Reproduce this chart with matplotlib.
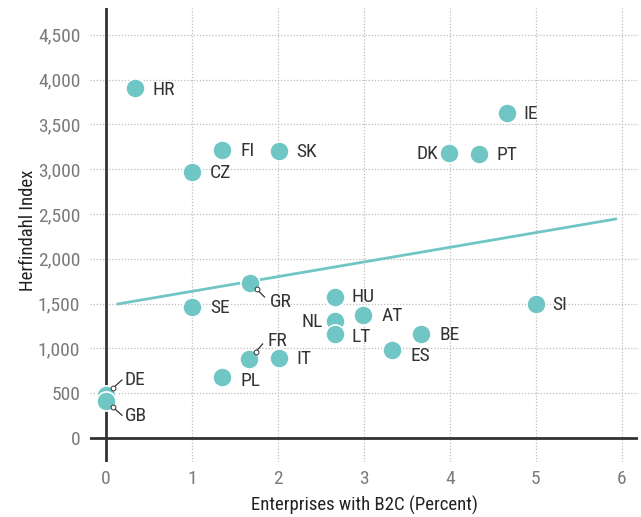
import matplotlib
matplotlib.use('Agg')
import matplotlib.pyplot as plt
import matplotlib.transforms as mtrans

plt.rcParams['font.family'] = ['Roboto Condensed', 'Liberation Sans Narrow', 'Roboto', 'DejaVu Sans']

countries = ['HR', 'FI', 'SK', 'CZ', 'IE', 'DK', 'PT', 'GR', 'SE', 'HU', 'NL', 'LT',
             'AT', 'BE', 'ES', 'SI', 'FR', 'IT', 'PL', 'DE', 'GB']
b2c = [0.34, 1.35, 2.01, 1.0, 4.66, 3.99, 4.34, 1.67, 1.0, 2.66, 2.66, 2.66,
       2.99, 3.66, 3.33, 5.0, 1.66, 2.01, 1.35, 0.0, 0.0]
hhi = [3906, 3214, 3200, 2970, 3627, 3180, 3170, 1730, 1462, 1574, 1306, 1160,
       1373, 1160, 982, 1496, 882, 893, 680, 480, 410]

trend_x = [0.14, 5.93]
trend_y = [1496, 2444]

xticks = [0, 1, 2, 3, 4, 5, 6]
yticks = [0, 500, 1000, 1500, 2000, 2500, 3000, 3500, 4000, 4500]

teal = '#70c6c4'

# label offsets in pixels (dx, dy with dy pointing down), alignment
offsets = {
    'HR': (17, 2, 'left'), 'FI': (18, 1, 'left'), 'SK': (18, 1, 'left'),
    'CZ': (18, 1, 'left'), 'IE': (17, 1, 'left'), 'DK': (-11, 1, 'right'),
    'PT': (18, 1, 'left'), 'GR': (20, 19, 'left'), 'SE': (18, 1, 'left'),
    'HU': (17, 0, 'left'), 'NL': (-12, 1, 'right'), 'LT': (17, 3, 'left'),
    'AT': (19, 1, 'left'), 'BE': (19, 1, 'left'), 'ES': (18, 6, 'left'),
    'SI': (17, 1, 'left'), 'FR': (19, -18, 'left'), 'IT': (18, 1, 'left'),
    'PL': (18, 4, 'left'), 'DE': (19, -15, 'left'), 'GB': (19, 15, 'left'),
}
# leader lines: (start dx, dy) -> (end dx, dy) in pixels
leaders = {
    'GR': ((7, 6), (15, 14)),
    'FR': ((7, -7), (14, -15)),
    'DE': ((7, -7), (16, -15)),
    'GB': ((7, 6), (16, 14)),
}

fig = plt.figure(figsize=(6.41, 5.17), dpi=100)
ax = fig.add_axes([90 / 641, 1 - 462 / 517, 548 / 641, 454 / 517])
ax.set_xlim(-0.186, 6.19)
ax.set_ylim(-268, 4799)

for s in ax.spines.values():
    s.set_visible(False)
ax.grid(True, linestyle=(0, (1, 1.5)), color='#bdbdbd', linewidth=0.9)
ax.set_axisbelow(True)
ax.axhline(0, color='#333333', linewidth=2, zorder=1)
ax.axvline(0, color='#333333', linewidth=2, zorder=1)

ax.set_xticks(xticks)
ax.set_yticks(yticks)
ax.set_yticklabels([f'{v:,}' for v in yticks])
ax.tick_params(length=0, labelsize=14, labelcolor='#7a7a7a')
ax.tick_params(axis='x', pad=6)
ax.tick_params(axis='y', pad=7)

ax.plot(trend_x, trend_y, color=teal, linewidth=2, zorder=2)
ax.scatter(b2c, hhi, s=190, color=teal, edgecolor='white', linewidth=1.2, zorder=3)

px = 0.72
for name, x, y in zip(countries, b2c, hhi):
    dx, dy, ha = offsets[name]
    tr = mtrans.offset_copy(ax.transData, fig=fig, x=dx * px, y=-dy * px, units='points')
    ax.text(x, y, name, transform=tr, ha=ha, va='center', fontsize=14, color='#333333', zorder=4)
    if name in leaders:
        (x0, y0), (x1, y1) = leaders[name]
        tr0 = mtrans.offset_copy(ax.transData, fig=fig, x=x0 * px, y=-y0 * px, units='points')
        tr1 = mtrans.offset_copy(ax.transData, fig=fig, x=x1 * px, y=-y1 * px, units='points')
        p0 = tr0.transform((x, y))
        p1 = tr1.transform((x, y))
        ax.plot([p0[0], p1[0]], [p0[1], p1[1]], transform=None, color='#333333',
                linewidth=0.9, zorder=5)
        ax.plot([p0[0]], [p0[1]], transform=None, marker='o', markersize=3.5,
                markerfacecolor='white', markeredgecolor='#333333', markeredgewidth=0.7, zorder=6)

ax.set_xlabel('Enterprises with B2C (Percent)', fontsize=13.5, color='#222222', va='center')
ax.xaxis.set_label_coords(0.5, (462 - 505) / 454)
ax.set_ylabel('Herfindahl Index', fontsize=13.5, color='#222222', va='center')
ax.yaxis.set_label_coords((28 - 90) / 548, 0.51)

fig.savefig('out.png', dpi=100)
